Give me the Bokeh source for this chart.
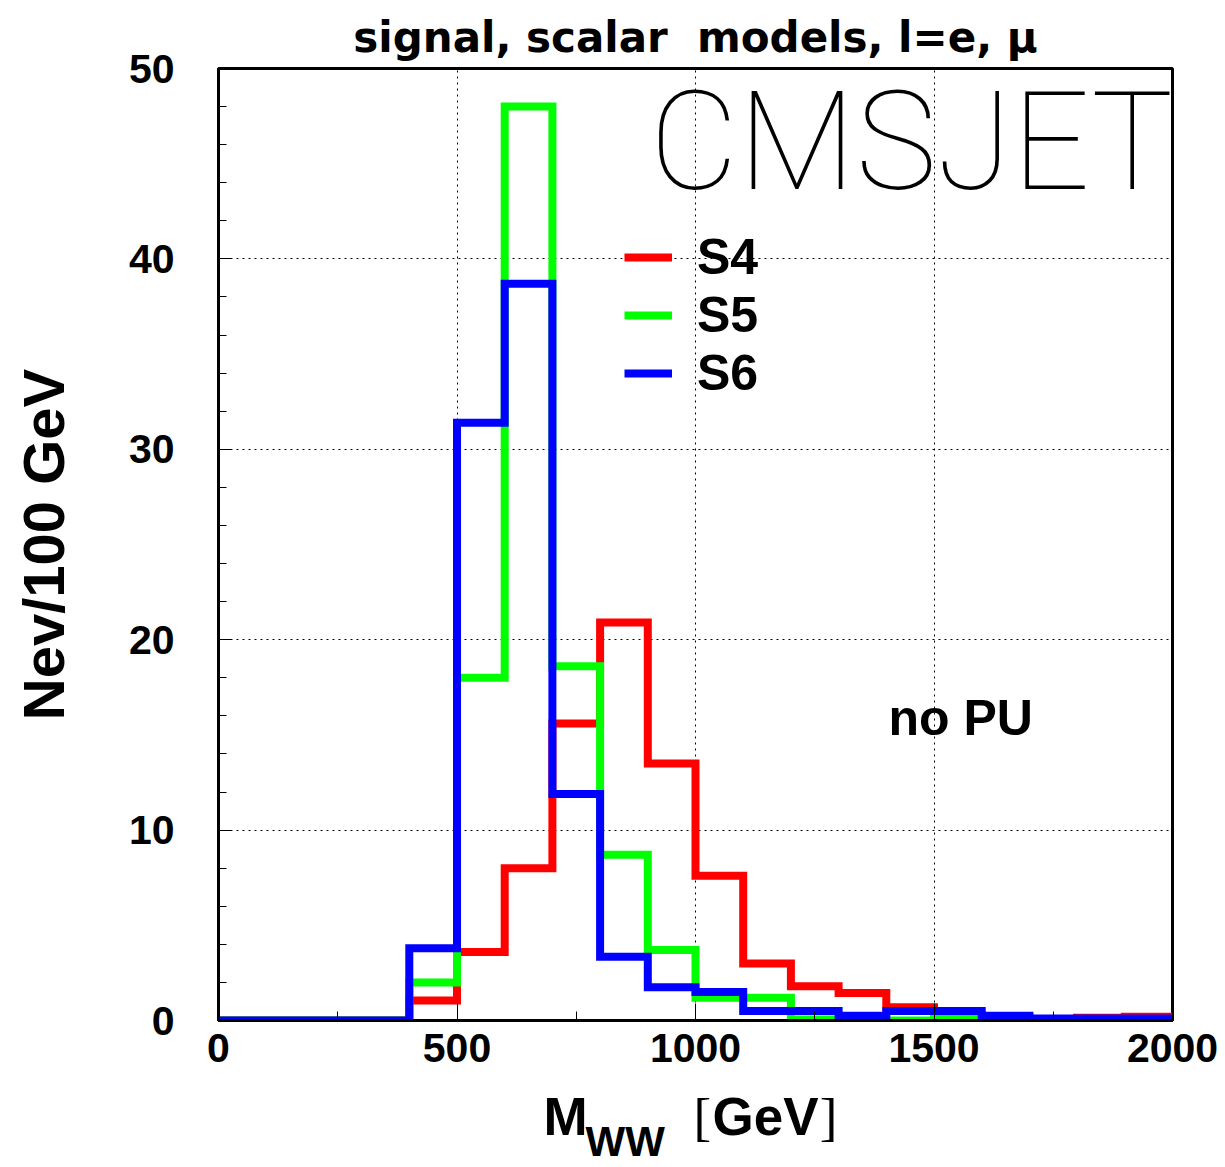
import math
from bokeh.plotting import figure
from bokeh.layouts import column
from bokeh.models import Label, Legend, LegendItem, FixedTicker, Range1d
from bokeh.embed import file_html
from bokeh.resources import INLINE

# ---- data ----
bin_edges = [0, 100, 200, 300, 400, 500, 600, 700, 800, 900, 1000,
             1100, 1200, 1300, 1400, 1500, 1600, 1700, 1800, 1900, 2000]
s4_counts = [0, 0, 0, 0, 1.05, 3.6, 8.0, 15.6, 20.9, 13.5, 7.6,
             3.0, 1.8, 1.45, 0.7, 0.3, 0.15, 0.05, 0.15, 0.2]
s5_counts = [0, 0, 0, 0, 2.0, 18.0, 48.0, 18.6, 8.7, 3.7, 1.2,
             1.2, 0.05, 0.0, 0.0, 0.15, 0.05, 0.0, 0.0, 0.0]
s6_counts = [0, 0, 0, 0, 3.8, 31.4, 38.7, 11.9, 3.35, 1.75, 1.5,
             0.5, 0.5, 0.25, 0.5, 0.5, 0.25, 0.1, 0.1, 0.1]
series_names = ["S4", "S5", "S6"]
series_colors = ["#ff0000", "#00ff00", "#0000ff"]
x_major = [0, 500, 1000, 1500, 2000]
x_minor = [250, 750, 1250, 1750]
y_major = [0, 10, 20, 30, 40, 50]
y_minor = [2, 4, 6, 8, 12, 14, 16, 18, 22, 24, 26, 28, 32, 34, 36, 38, 42, 44, 46, 48]

W, H = 1225, 1167
MAIN_H = 1082
FL, FR, FT, FB = 218, 1172, 68, 1020
X0, X1, Y0, Y1 = 0, 2000, 0, 50
BASE_SHIFT = 0.35  # baseline correction, fraction of font size

def px2x(px):
    return X0 + (px - FL) / (FR - FL) * (X1 - X0)

def px2y(py):
    return Y0 + (FB - py) / (FB - FT) * (Y1 - Y0)

FONT = "Liberation Sans"

p = figure(width=W, height=MAIN_H, x_range=(X0, X1), y_range=(Y0, Y1),
           output_backend="svg", toolbar_location=None,
           min_border_left=FL, min_border_right=W - FR,
           min_border_top=FT, min_border_bottom=MAIN_H - FB)
p.background_fill_color = "white"
p.border_fill_color = "white"
p.outline_line_color = "black"
p.outline_line_width = 3

# title
p.title.text = "signal, scalar\u00a0 models, l=e, μ"
p.title.text_font = "DejaVu Sans"
p.title.text_font_style = "bold"
p.title.text_font_size = "42px"
p.title.text_color = "black"
p.title.align = "center"
p.title.standoff = 14

renderers = []
for counts, col in zip([s4_counts, s5_counts, s6_counts], series_colors):
    ys = list(counts) + [counts[-1]]
    r = p.step(x=bin_edges, y=ys, mode="after", line_color=col,
               line_width=8, line_join="miter")
    renderers.append(r)

# axes
p.xaxis.ticker = FixedTicker(ticks=x_major, minor_ticks=x_minor)
p.yaxis.ticker = FixedTicker(ticks=y_major, minor_ticks=y_minor)
for ax in (p.xaxis, p.yaxis):
    ax.axis_line_width = 3
    ax.axis_line_color = "black"
    ax.major_tick_out = 0
    ax.minor_tick_out = 0
    ax.major_tick_line_color = "black"
    ax.minor_tick_line_color = "black"
    ax.major_label_text_font = FONT
    ax.major_label_text_font_style = "bold"
    ax.major_label_text_font_size = "41px"
    ax.major_label_text_color = "black"
p.xaxis.major_tick_in = 17
p.xaxis.minor_tick_in = 9
p.yaxis.major_tick_in = 13
p.yaxis.minor_tick_in = 8
p.xaxis.major_label_standoff = 13
p.yaxis.major_label_standoff = 44
p.yaxis.axis_label = "Nev/100 GeV"
p.yaxis.axis_label_text_font = FONT
p.yaxis.axis_label_text_font_style = "bold"
p.yaxis.axis_label_text_font_size = "58px"
p.yaxis.axis_label_text_color = "black"
p.yaxis.axis_label_standoff = 50

# grid
p.xgrid.ticker = FixedTicker(ticks=[500, 1000, 1500])
p.ygrid.ticker = FixedTicker(ticks=[10, 20, 30, 40])
for g in (p.xgrid, p.ygrid):
    g.grid_line_color = "black"
    g.grid_line_width = 1
    g.grid_line_dash = "2 4"

# legend
items = [LegendItem(label=n, renderers=[r]) for n, r in zip(series_names, renderers)]
legend = Legend(items=items, location=(624 - FL, FB - 402),
                glyph_width=48, glyph_height=40, label_standoff=25,
                label_text_font=FONT, label_text_font_style="bold",
                label_text_font_size="50px", label_height=57,
                label_text_color="black",
                spacing=0, padding=0, margin=0,
                border_line_alpha=0, background_fill_alpha=0)
p.add_layout(legend, "center")

# texts inside the frame
p.add_layout(Label(x=px2x(649), y=px2y(189 - BASE_SHIFT * 137), text="CMSJET",
                   text_font="Roboto Thin, Lato Hairline, DejaVu Sans ExtraLight, Roboto",
                   text_font_style="normal", text_font_size="137px",
                   text_color="black", text_align="left", text_baseline="alphabetic"))
p.add_layout(Label(x=px2x(888), y=px2y(735 - BASE_SHIFT * 50), text="no PU",
                   text_font=FONT, text_font_style="bold", text_font_size="50px",
                   text_color="black", text_align="left", text_baseline="alphabetic"))

# x-axis title strip below the main figure; same horizontal frame as the main plot,
# vertical coordinate in pixels (downwards) from the strip top
SUB_H = H - MAIN_H
q = figure(width=W, height=SUB_H, x_range=Range1d(X0, X1), y_range=Range1d(SUB_H, 0),
           output_backend="svg", toolbar_location=None,
           x_axis_type=None, y_axis_type=None,
           min_border_left=FL, min_border_right=W - FR,
           min_border_top=0, min_border_bottom=0)
q.outline_line_color = None
q.background_fill_color = "white"
q.border_fill_color = "white"
q.xgrid.visible = False
q.ygrid.visible = False

def strip_label(xpx, base, text, font=FONT, style="bold", size=39, align="left"):
    q.add_layout(Label(x=px2x(xpx), y=base - MAIN_H - BASE_SHIFT * size, text=text,
                       text_font=font, text_font_style=style,
                       text_font_size=f"{size}px", text_align=align,
                       text_baseline="alphabetic", text_color="black"))

strip_label(543, 1135, "M", size=53)
strip_label(585, 1156, "WW", size=42)
strip_label(693, 1135, "[", font="Liberation Serif", style="normal", size=53)
strip_label(765, 1135, "GeV", size=53, align="center")
strip_label(837, 1135, "]", font="Liberation Serif", style="normal", size=53, align="right")

layout = column(p, q, spacing=0)
open("out.html", "w").write(file_html(layout, INLINE))
